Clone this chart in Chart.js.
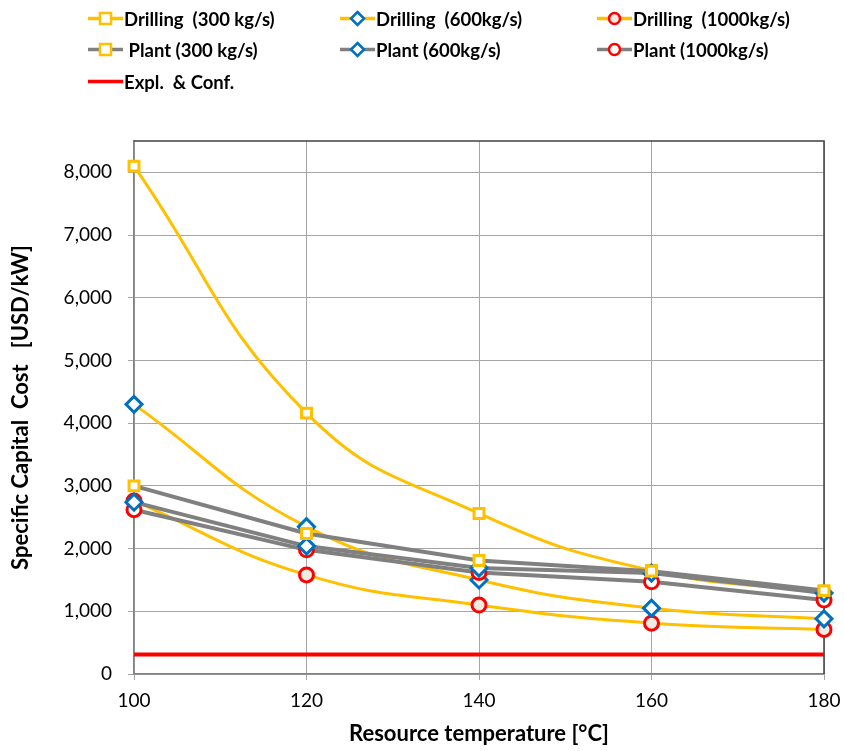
<!DOCTYPE html>
<html>
<head>
<meta charset="utf-8">
<script src="https://cdn.jsdelivr.net/npm/chart.js@4.4.1/dist/chart.umd.min.js"></script>
<style>
  body { margin: 0; background: #fff; }
  #wrap { position: relative; width: 844px; height: 751px; }
  #legend { position: absolute; left: 0; top: 0; width: 844px; height: 100px; font-family: Lato, "Open Sans", sans-serif; font-weight: bold; font-size: 18.5px; color: #000; }
  .item { position: absolute; display: flex; align-items: center; white-space: pre; }
  .item svg { margin-right: 1px; }
</style>
</head>
<body>
<div id="wrap">
  <canvas id="chart" width="844" height="751"></canvas>
  <div id="legend"></div>
</div>
<script>
const temps = [100, 120, 140, 160, 180];
const drill300 = [8100, 4160, 2560, 1650, 1310];
const drill600 = [4300, 2350, 1500, 1050, 880];
const drill1000 = [2760, 1580, 1100, 810, 710];
const plant300 = [3000, 2240, 1810, 1640, 1330];
const plant600 = [2740, 2040, 1690, 1610, 1290];
const plant1000 = [2620, 1980, 1620, 1470, 1180];
const explConf = [310, 310, 310, 310, 310];
const yTicks = [0, 1000, 2000, 3000, 4000, 5000, 6000, 7000, 8000];

const YELLOW = '#FFC000', GRAY = '#808080', BLUE = '#0070C0', RED = '#FF0000';

function pts(vals){ return vals.map((v, i) => ({x: temps[i], y: v})); }

function drill(label, vals, style, col, fill){
  return { label: label, data: pts(vals), borderColor: YELLOW, borderWidth: 3, tension: 0.45,
    pointStyle: style, pointRadius: style === 'rectRot' ? 8 : 7, pointBorderColor: col,
    pointBackgroundColor: fill, pointBorderWidth: 3, order: 2, clip: false };
}
function plant(label, vals, style, col){
  return { label: label, data: pts(vals), borderColor: GRAY, borderWidth: 4, tension: 0,
    pointStyle: style, pointRadius: style === 'rectRot' ? 8 : 7, pointBorderColor: col,
    pointBackgroundColor: '#fff', pointBorderWidth: 3, order: 1, clip: false };
}

const datasets = [
  drill('Drilling  (300 kg/s)', drill300, 'rect', YELLOW, '#fff'),
  drill('Drilling  (600kg/s)', drill600, 'rectRot', BLUE, '#fff'),
  drill('Drilling  (1000kg/s)', drill1000, 'circle', RED, '#EEECE1'),
  plant(' Plant (300 kg/s)', plant300, 'rect', YELLOW),
  plant('Plant (600kg/s)', plant600, 'rectRot', BLUE),
  plant('Plant (1000kg/s)', plant1000, 'circle', RED),
  { label: 'Expl.  & Conf.', data: pts(explConf), borderColor: RED, borderWidth: 4, pointRadius: 0, order: 3 }
];

// plot frame (top & right border)
const frame = {
  id: 'frame',
  beforeDatasetsDraw(chart){
    const a = chart.chartArea, c = chart.ctx;
    c.save();
    c.strokeStyle = '#404040'; c.lineWidth = 1.5;
    c.beginPath();
    c.moveTo(a.left, a.top); c.lineTo(a.right, a.top); c.lineTo(a.right, a.bottom);
    c.stroke();
    c.restore();
  }
};

const ctx1 = document.getElementById('chart');
const chart = new Chart(ctx1, {
  type: 'line',
  data: { datasets: datasets },
  options: {
    responsive: false,
    animation: false,
    layout: { padding: { top: 141, right: 20, left: 0, bottom: 0 } },
    plugins: { legend: { display: false }, tooltip: { enabled: false } },
    scales: {
      x: {
        type: 'linear', min: 100, max: 180,
        ticks: { stepSize: 20, color: '#000', font: { family: 'Lato', size: 19 }, padding: 9 },
        grid: { color: '#A6A6A6', tickLength: 6, tickColor: '#A6A6A6' },
        border: { color: '#808080', width: 1.5 },
        title: { display: true, text: 'Resource temperature [°C]', color: '#000',
          font: { family: 'Lato', size: 22, weight: 'bold' }, padding: { top: 6 } },
        afterFit(scale){ scale.height = 77; scale.paddingLeft = 0; scale.paddingRight = 0; }
      },
      y: {
        min: 0, max: 8500,
        afterBuildTicks(scale){ scale.ticks = yTicks.map(v => ({value: v})); },
        ticks: { color: '#000', font: { family: 'Lato', size: 19 }, padding: 16,
          callback: v => v.toLocaleString('en-US') },
        grid: { color: '#A6A6A6', tickLength: 6, tickColor: '#A6A6A6' },
        border: { color: '#808080', width: 1.5 },
        title: { display: true, text: 'Specific Capital  Cost   [USD/kW]', color: '#000',
          font: { family: 'Lato', size: 22, weight: 'bold' }, padding: { top: 8, bottom: 4 } },
        afterFit(scale){ scale.width = 134; scale.paddingTop = 0; scale.paddingBottom = 0; }
      }
    }
  },
  plugins: [frame]
});

// html legend
const legendPos = [
  [88, 19], [340, 19], [597, 19],
  [88, 50], [340, 50], [597, 50],
  [88, 82]
];
const legendEl = document.getElementById('legend');
datasets.forEach((ds, i) => {
  const d = document.createElement('div');
  d.className = 'item';
  d.style.left = legendPos[i][0] + 'px';
  d.style.top = (legendPos[i][1] - 11) + 'px';
  let mk = '';
  const sc = ds.pointBorderColor, fc = ds.pointBackgroundColor;
  if (ds.pointStyle === 'rect') mk = `<rect x="12" y="5" width="11" height="11" fill="${fc}" stroke="${sc}" stroke-width="2.5"/>`;
  else if (ds.pointStyle === 'rectRot') mk = `<polygon points="17.5,4 24,10.5 17.5,17 11,10.5" fill="${fc}" stroke="${sc}" stroke-width="2.5"/>`;
  else if (ds.pointStyle === 'circle') mk = `<circle cx="17.5" cy="10.5" r="5.5" fill="${fc}" stroke="${sc}" stroke-width="2.5"/>`;
  d.innerHTML = `<svg width="35" height="22"><line x1="0" y1="10.5" x2="35" y2="10.5" stroke="${ds.borderColor}" stroke-width="3.5"/>${mk}</svg><span>${ds.label}</span>`;
  legendEl.appendChild(d);
});
</script>
</body>
</html>
